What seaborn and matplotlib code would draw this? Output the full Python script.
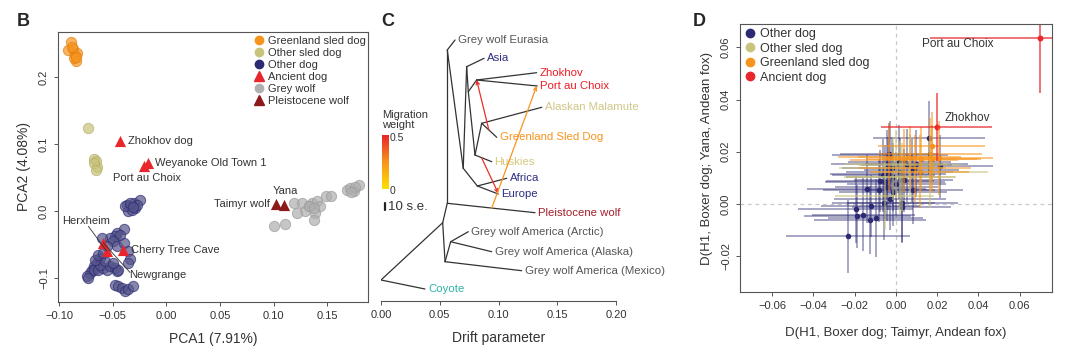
import numpy as np
import pandas as pd
import seaborn as sns
import matplotlib.pyplot as plt
from matplotlib.lines import Line2D
from matplotlib.colors import LinearSegmentedColormap

sns.set_style("ticks")
plt.rcParams['font.family'] = ['Liberation Sans', 'DejaVu Sans']

# colours
c_green = '#F7941D'   # Greenland sled dog
c_sled = '#C9C47C'    # other sled dog
c_dog = '#2B2A73'     # other dog
c_anc = '#E8262B'     # ancient dog
c_wolf = '#AFAFAF'    # grey wolf
c_pleist = '#8C1A1A'  # pleistocene wolf

# ---------------- panel B : PCA ----------------
greenland_pc1 = [-0.0890, -0.0913, -0.0867, -0.0850, -0.0835, -0.0841, -0.0860, -0.0880, -0.0845]
greenland_pc2 = [0.2526, 0.2400, 0.2410, 0.2330, 0.2360, 0.2230, 0.2280, 0.2450, 0.2300]
sled_pc1 = [-0.0727, -0.0673, -0.0655, -0.0648, -0.0670, -0.0655]
sled_pc2 = [0.1235, 0.0774, 0.0738, 0.0649, 0.0714, 0.0610]
dog_pc1 = [-0.0368, -0.0337, -0.0306, -0.0290, -0.0353, -0.0244, -0.0322, -0.0384, -0.0275, -0.0343, -0.0312,
           -0.0393, -0.0462, -0.0477, -0.0430, -0.0524, -0.0493, -0.0601, -0.0555, -0.0462, -0.0399, -0.0353,
           -0.0337, -0.0353, -0.0617, -0.0648, -0.0679, -0.0695, -0.0710, -0.0741, -0.0726, -0.0679, -0.0633,
           -0.0586, -0.0555, -0.0524, -0.0477, -0.0462, -0.0446, -0.0617, -0.0570, -0.0664, -0.0633, -0.0586,
           -0.0493, -0.0477, -0.0446, -0.0415, -0.0384, -0.0353, -0.0312]
dog_pc2 = [0.0092, 0.0067, 0.0117, 0.0043, -0.0007, 0.0167, 0.0018, 0.0067, 0.0092, 0.0117, 0.0057,
           -0.0271, -0.0330, -0.0380, -0.0355, -0.0405, -0.0455, -0.0405, -0.0529, -0.0529, -0.0479, -0.0604,
           -0.0718, -0.0778, -0.0703, -0.0778, -0.0827, -0.0877, -0.0927, -0.0976, -0.1001, -0.0877, -0.0877,
           -0.0852, -0.0877, -0.0827, -0.0852, -0.0902, -0.0877, -0.0802, -0.0753, -0.0728, -0.0653, -0.0629,
           -0.0778, -0.1101, -0.1126, -0.1150, -0.1200, -0.1165, -0.1115]
wolf_pc1 = [0.1187, 0.1265, 0.1358, 0.1405, 0.1436, 0.1327, 0.1296, 0.1389, 0.1373, 0.1218, 0.1492, 0.1538,
            0.1684, 0.1716, 0.1747, 0.1793, 0.1000, 0.1103, 0.1330, 0.1380, 0.1760, 0.1720]
wolf_pc2 = [0.0117, 0.0117, 0.0117, 0.0142, 0.0067, 0.0067, -0.0007, -0.0032, -0.0131, -0.0032, 0.0226, 0.0226,
            0.0306, 0.0341, 0.0291, 0.0390, -0.0221, -0.0191, 0.0080, 0.0040, 0.0360, 0.0280]
ancient_names = ['Zhokhov dog', 'Weyanoke Old Town 1', 'Port au Choix', 'Herxheim', 'Newgrange', 'Cherry Tree Cave']
ancient_pc1 = [-0.0431, -0.0167, -0.0204, -0.0555, -0.0587, -0.0406]
ancient_pc2 = [0.1036, 0.0710, 0.0666, -0.0603, -0.0478, -0.0588]
pleist_names = ['Taimyr wolf', 'Yana']
pleist_pc1 = [0.1025, 0.1100]
pleist_pc2 = [0.0108, 0.0093]

# ---------------- panel C : TreeMix tree ----------------
node_names = ['root', 'Coyote', 'n1', 'p', 'am', 'am2', 'Grey wolf America (Arctic)', 'Grey wolf America (Alaska)',
              'Grey wolf America (Mexico)', 'Pleistocene wolf', 'x', 'Grey wolf Eurasia', 'd1', 'a', 'Asia', 'q',
              'z', 'Zhokhov', 'Port au Choix', 'h', 'm', 'Alaskan Malamute', 'Greenland Sled Dog', 'Huskies',
              'ae', 'Africa', 'Europe']
node_drift = [0.0, 0.0374, 0.0525, 0.0564, 0.0545, 0.0593, 0.0743, 0.0942, 0.1197, 0.1311, 0.0564, 0.0630,
              0.0700, 0.0729, 0.0877, 0.0743, 0.0814, 0.1325, 0.1330, 0.0800, 0.0857, 0.1368, 0.0985, 0.0942,
              0.0820, 0.1070, 0.0998]
node_row = [24.8, 25.7, 19.07, 17.13, 22.97, 20.97, 19.97, 21.97, 23.87, 18.07, 1.8, 0.8, 13.63, 3.47, 2.63,
            5.97, 4.8, 4.07, 5.4, 12.3, 9.13, 7.53, 10.53, 12.97, 15.4, 14.63, 16.2]
edge_parent = ['root', 'root', 'n1', 'n1', 'am', 'am2', 'am2', 'am', 'p', 'p', 'x', 'x', 'd1', 'd1', 'a', 'a',
               'q', 'q', 'z', 'z', 'h', 'h', 'm', 'm', 'ae', 'ae']
edge_child = ['Coyote', 'n1', 'p', 'am', 'am2', 'Grey wolf America (Arctic)', 'Grey wolf America (Alaska)',
              'Grey wolf America (Mexico)', 'Pleistocene wolf', 'x', 'Grey wolf Eurasia', 'd1', 'a', 'ae', 'Asia',
              'q', 'z', 'h', 'Zhokhov', 'Port au Choix', 'm', 'Huskies', 'Alaskan Malamute', 'Greenland Sled Dog',
              'Africa', 'Europe']
leaf_colors = {'Coyote': '#2DB3A6', 'Grey wolf America (Arctic)': '#555555', 'Grey wolf America (Alaska)': '#555555',
               'Grey wolf America (Mexico)': '#555555', 'Pleistocene wolf': '#A3202A', 'Grey wolf Eurasia': '#555555',
               'Asia': '#2E2D82', 'Zhokhov': '#EE1C25', 'Port au Choix': '#EE1C25', 'Alaskan Malamute': '#CFC786',
               'Greenland Sled Dog': '#F7941D', 'Huskies': '#D4C97A', 'Africa': '#2E2D82', 'Europe': '#2E2D82'}
mig_from_drift = [0.0918, 0.0857, 0.0942]
mig_from_row = [9.8, 12.6, 17.63]
mig_to_drift = [0.0814, 0.0998, 0.1325]
mig_to_row = [4.8, 16.13, 5.4]
mig_weight = [0.5, 0.5, 0.25]

# ---------------- panel D : D statistics ----------------
dog_dx = [0.0160, -0.0032, -0.0231, -0.0195, -0.0187, -0.0158, -0.0126, -0.0121, -0.0097, -0.0142, -0.0077,
          -0.0061, -0.0042, -0.0021, -0.0037, -0.0013, -0.0029, -0.0058, 0.0019, 0.0039, 0.0052, 0.0100, 0.0076,
          0.0031, 0.0084, 0.0213, 0.0016, -0.0029, 0.0003, -0.0053, -0.0013, -0.0081, -0.0045, 0.0028]
dog_dy = [0.0253, 0.0190, -0.0123, -0.0021, -0.0047, -0.0041, -0.0062, -0.0008, -0.0054, 0.0059, 0.0088,
          0.0110, 0.0155, 0.0136, 0.0116, 0.0103, 0.0021, 0.0002, 0.0123, 0.0091, 0.0148, 0.0155, 0.0129,
          0.0005, 0.0052, 0.0144, 0.0161, 0.0187, 0.0078, 0.0084, 0.0046, 0.0052, 0.0065, -0.0011]
dog_xerr = [0.027, 0.024, 0.030, 0.028, 0.026, 0.025, 0.027, 0.024, 0.023, 0.029, 0.026, 0.025, 0.027, 0.024,
            0.028, 0.023, 0.027, 0.025, 0.026, 0.024, 0.022, 0.025, 0.023, 0.027, 0.024, 0.026, 0.025, 0.028,
            0.024, 0.029, 0.026, 0.027, 0.025, 0.024]
dog_yerr = [0.014, 0.012, 0.014, 0.013, 0.012, 0.014, 0.013, 0.012, 0.015, 0.013, 0.012, 0.014, 0.013, 0.012,
            0.014, 0.013, 0.012, 0.014, 0.013, 0.012, 0.014, 0.013, 0.012, 0.015, 0.013, 0.012, 0.014, 0.013,
            0.012, 0.014, 0.013, 0.012, 0.013, 0.014]
sled_dx = [0.0165, 0.0003, -0.0016, -0.0053, 0.0019, 0.0068, 0.0028]
sled_dy = [0.0123, 0.0152, 0.0136, 0.0030, 0.0103, 0.0148, 0.0103]
sled_xerr = [0.028, 0.025, 0.026, 0.024, 0.027, 0.025, 0.026]
sled_yerr = [0.014, 0.013, 0.012, 0.013, 0.014, 0.012, 0.013]
green_dx = [0.0173, 0.0165, 0.0124, 0.0173, 0.0210, 0.0068, 0.0092, 0.0116, 0.0039, -0.0032]
green_dy = [0.0221, 0.0190, 0.0174, 0.0171, 0.0176, 0.0180, 0.0136, 0.0123, 0.0167, 0.0180]
green_xerr = [0.026, 0.025, 0.027, 0.024, 0.026, 0.025, 0.027, 0.024, 0.026, 0.025]
green_yerr = [0.013, 0.014, 0.012, 0.013, 0.014, 0.012, 0.013, 0.014, 0.012, 0.013]
anc_names = ['Zhokhov', 'Port au Choix']
anc_dx = [0.0197, 0.0697]
anc_dy = [0.0293, 0.0636]
anc_xerr = [0.027, 0.053]
anc_yerr = [0.013, 0.021]

W, H = 1080, 364
fig = plt.figure(figsize=(W / 100, H / 100), dpi=100)
tick_kw = dict(labelsize=8, length=3, width=0.7, color='#555555', labelcolor='#333333')

# ===== B =====
axB = fig.add_axes([58 / W, 62 / H, 310 / W, 270 / H])
sns.scatterplot(x=greenland_pc1, y=greenland_pc2, color=c_green, edgecolor='#E07F10', s=55, alpha=0.7,
                linewidth=0.7, ax=axB, legend=False)
sns.scatterplot(x=sled_pc1, y=sled_pc2, color=c_sled, edgecolor='#B3AE66', s=55, alpha=0.7,
                linewidth=0.7, ax=axB, legend=False)
sns.scatterplot(x=wolf_pc1, y=wolf_pc2, color=c_wolf, edgecolor='#9A9A9A', s=55, alpha=0.7,
                linewidth=0.7, ax=axB, legend=False)
sns.scatterplot(x=dog_pc1, y=dog_pc2, color='#55548A', edgecolor=c_dog, s=55, alpha=0.7,
                linewidth=0.7, ax=axB, legend=False)
sns.scatterplot(x=ancient_pc1, y=ancient_pc2, color=c_anc, marker='^', s=65, linewidth=0,
                ax=axB, legend=False)
sns.scatterplot(x=pleist_pc1, y=pleist_pc2, color=c_pleist, marker='^', s=65, linewidth=0,
                ax=axB, legend=False)
axB.set_xlim(-0.101, 0.188)
axB.set_ylim(-0.136, 0.267)
axB.set_xticks([-0.10, -0.05, 0.0, 0.05, 0.10, 0.15])
axB.set_xticklabels(['\u22120.10', '\u22120.05', '0.00', '0.05', '0.10', '0.15'])
axB.set_yticks([-0.1, 0.0, 0.1, 0.2])
axB.set_yticklabels(['\u22120.1', '0.0', '0.1', '0.2'], rotation=90, va='center')
axB.tick_params(**tick_kw)
for s in axB.spines.values():
    s.set_color('#555555')
    s.set_linewidth(0.8)
axB.set_xlabel('PCA1 (7.91%)', fontsize=10, color='#333333', labelpad=8)
axB.set_ylabel('PCA2 (4.08%)', fontsize=10, color='#333333', labelpad=6)

lab = dict(fontsize=8, color='#333333', va='center')
axB.text(-0.0359, 0.1036, 'Zhokhov dog', **lab)
axB.text(-0.0104, 0.0714, 'Weyanoke Old Town 1', **lab)
axB.text(-0.0493, 0.0491, 'Port au Choix', **lab)
axB.text(0.1109, 0.0291, 'Yana', ha='center', **lab)
axB.text(0.0969, 0.0103, 'Taimyr wolf', ha='right', **lab)
axB.text(-0.0975, -0.0146, 'Herxheim', **lab)
axB.text(-0.0331, -0.0578, 'Cherry Tree Cave', **lab)
axB.text(-0.0344, -0.0950, 'Newgrange', **lab)
axB.plot([-0.0727, ancient_pc1[3]], [-0.0230, ancient_pc2[3]], color='#333333', lw=0.6)
axB.plot([-0.0338, ancient_pc1[4]], [-0.0920, ancient_pc2[4]], color='#333333', lw=0.6)

handlesB = [Line2D([], [], ls='', marker='o', color=c_green, ms=6),
            Line2D([], [], ls='', marker='o', color=c_sled, ms=6),
            Line2D([], [], ls='', marker='o', color=c_dog, ms=6),
            Line2D([], [], ls='', marker='^', color=c_anc, ms=6.5),
            Line2D([], [], ls='', marker='o', color=c_wolf, ms=6),
            Line2D([], [], ls='', marker='^', color=c_pleist, ms=6.5)]
labelsB = ['Greenland sled dog', 'Other sled dog', 'Other dog', 'Ancient dog', 'Grey wolf', 'Pleistocene wolf']
legB = axB.legend(handlesB, labelsB, loc='upper left', bbox_to_anchor=(0.635, 0.985), frameon=False,
                  fontsize=8, handlelength=0.8, handletextpad=0.4, labelspacing=0.18, borderpad=0,
                  borderaxespad=0)
for t in legB.get_texts():
    t.set_color('#333333')

# ===== C =====
axC = fig.add_axes([381 / W, 63.3 / H, 235 / W, 268.7 / H])
pos = {n: (d, r) for n, d, r in zip(node_names, node_drift, node_row)}
for p, c in zip(edge_parent, edge_child):
    axC.plot([pos[p][0], pos[c][0]], [pos[p][1], pos[c][1]], color='#333333', lw=0.9, solid_capstyle='round')
for leaf, col in leaf_colors.items():
    axC.text(pos[leaf][0] + 0.0025, pos[leaf][1], leaf, color=col, fontsize=8.2, va='center', ha='left')
cmap = LinearSegmentedColormap.from_list('mig', ['#FFE000', '#F7941D', '#E8262B'])
for fx, fy, tx, ty, w in zip(mig_from_drift, mig_from_row, mig_to_drift, mig_to_row, mig_weight):
    axC.annotate('', xy=(tx, ty), xytext=(fx, fy),
                 arrowprops=dict(arrowstyle='->', color=cmap(w / 0.5 if w < 0.5 else 0.95), lw=0.9,
                                 shrinkA=0, shrinkB=0, mutation_scale=6))
axC.set_xlim(0, 0.2)
axC.set_ylim(26.87, 0)
axC.set_yticks([])
for s in ['left', 'top', 'right']:
    axC.spines[s].set_visible(False)
axC.spines['bottom'].set_color('#555555')
axC.spines['bottom'].set_linewidth(0.8)
axC.set_xticks([0, 0.05, 0.10, 0.15, 0.20])
axC.set_xticklabels(['0.00', '0.05', '0.10', '0.15', '0.20'])
axC.tick_params(**tick_kw)
axC.set_xlabel('Drift parameter', fontsize=10, color='#333333', labelpad=8)
axC.patch.set_alpha(0)

# colour bar for migration weight
cax = fig.add_axes([382 / W, (H - 189) / H, 7 / W, 54 / H])
cax.imshow(np.linspace(1, 0, 100).reshape(-1, 1), aspect='auto', cmap=cmap)
cax.set_axis_off()
fig.text(382 / W, (H - 120) / H, 'Migration\nweight', fontsize=8, color='#333333', va='center',
         linespacing=1.0)
fig.text(390 / W, (H - 138) / H, '0.5', fontsize=7.5, color='#333333', va='center')
fig.text(390 / W, (H - 191) / H, '0', fontsize=7.5, color='#333333', va='center')
fig.add_artist(Line2D([384.5 / W, 384.5 / W], [(H - 210) / H, (H - 203) / H], color='#222222', lw=1.6))
fig.text(388 / W, (H - 207) / H, '10 s.e.', fontsize=9.5, color='#333333', va='center')

# ===== D =====
axD = fig.add_axes([740 / W, 71.7 / H, 311.7 / W, 268.3 / H])
axD.axvline(0, color='#C8C8C8', lw=0.9, ls=(0, (3, 3)), zorder=0)
axD.axhline(0, color='#C8C8C8', lw=0.9, ls=(0, (3, 3)), zorder=0)
eb = dict(fmt='none', lw=1.3, capsize=0)
axD.errorbar(dog_dx, dog_dy, xerr=dog_xerr, yerr=dog_yerr, ecolor=c_dog, alpha=0.45, **eb)
axD.errorbar(sled_dx, sled_dy, xerr=sled_xerr, yerr=sled_yerr, ecolor=c_sled, alpha=0.6, **eb)
axD.errorbar(green_dx, green_dy, xerr=green_xerr, yerr=green_yerr, ecolor=c_green, alpha=0.6, **eb)
axD.errorbar(anc_dx, anc_dy, xerr=anc_xerr, yerr=anc_yerr, ecolor=c_anc, alpha=0.7, **eb)
sns.scatterplot(x=sled_dx, y=sled_dy, color=c_sled, s=16, linewidth=0, ax=axD, legend=False)
sns.scatterplot(x=green_dx, y=green_dy, color=c_green, s=16, linewidth=0, ax=axD, legend=False)
sns.scatterplot(x=dog_dx, y=dog_dy, color=c_dog, s=16, linewidth=0, ax=axD, legend=False)
sns.scatterplot(x=anc_dx, y=anc_dy, color=c_anc, s=18, linewidth=0, ax=axD, legend=False)
axD.text(0.0125, 0.0612, 'Port au Choix', fontsize=8.5, color='#333333', va='center')
axD.text(0.0235, 0.0331, 'Zhokhov', fontsize=8.5, color='#333333', va='center')
axD.set_xlim(-0.0755, 0.0755)
axD.set_ylim(-0.0338, 0.0689)
axD.set_xticks([-0.06, -0.04, -0.02, 0.0, 0.02, 0.04, 0.06])
axD.set_xticklabels(['\u22120.06', '\u22120.04', '\u22120.02', '0.00', '0.02', '0.04', '0.06'])
axD.set_yticks([-0.02, 0.0, 0.02, 0.04, 0.06])
axD.set_yticklabels(['\u22120.02', '0.00', '0.02', '0.04', '0.06'], rotation=90, va='center')
axD.tick_params(**tick_kw)
for s in axD.spines.values():
    s.set_color('#555555')
    s.set_linewidth(0.8)
axD.set_xlabel('D(H1, Boxer dog; Taimyr, Andean fox)', fontsize=9.5, color='#333333', labelpad=11)
axD.set_ylabel('D(H1, Boxer dog; Yana, Andean fox)', fontsize=9.5, color='#333333', labelpad=6)
handlesD = [Line2D([], [], ls='', marker='o', color=c, ms=6) for c in [c_dog, c_sled, c_green, c_anc]]
legD = axD.legend(handlesD, ['Other dog', 'Other sled dog', 'Greenland sled dog', 'Ancient dog'],
                  loc='upper left', bbox_to_anchor=(0.015, 0.985), frameon=False, fontsize=9,
                  handlelength=0.8, handletextpad=0.45, labelspacing=0.2, borderpad=0, borderaxespad=0)
for t in legD.get_texts():
    t.set_color('#333333')

# panel letters
for letter, px in [('B', 17), ('C', 381), ('D', 693)]:
    fig.text(px / W, (H - 21) / H, letter, fontsize=13, fontweight='bold', va='center', ha='left')

fig.savefig('out.png', dpi=100)
